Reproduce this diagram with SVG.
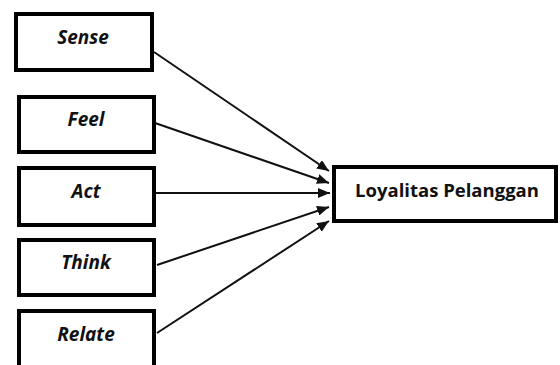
<svg xmlns="http://www.w3.org/2000/svg" width="560" height="365" viewBox="0 0 560 365">
<style>
.box{fill:#fff;stroke:#000;stroke-width:4}
.lbl{font-family:"Open Sans","Liberation Sans",sans-serif;font-weight:bold;font-style:italic;font-size:19px;fill:#111;text-anchor:middle}
.tgt{font-family:"Open Sans","Liberation Sans",sans-serif;font-weight:bold;font-size:18.5px;fill:#111;text-anchor:middle}
.con line{stroke:#111;stroke-width:2;marker-end:url(#ah)}
</style>
<defs>
<marker id="ah" viewBox="0 0 10 10" refX="10" refY="5" markerWidth="12" markerHeight="10" markerUnits="userSpaceOnUse" orient="auto" preserveAspectRatio="none">
<path d="M0,0 L10,5 L0,10 z" fill="#111"/>
</marker>
</defs>
<rect width="560" height="365" fill="#fff"/>
<g id="sense"><rect class="box" x="16" y="14" width="136" height="56"/><text class="lbl" x="83" y="44">Sense</text></g>
<g id="feel"><rect class="box" x="19" y="97" width="135" height="55"/><text class="lbl" x="86" y="126">Feel</text></g>
<g id="act"><rect class="box" x="19" y="168" width="135" height="57"/><text class="lbl" x="86" y="198">Act</text></g>
<g id="think"><rect class="box" x="19" y="240" width="135" height="55"/><text class="lbl" x="86" y="269">Think</text></g>
<g id="relate"><rect class="box" x="19" y="311" width="135" height="60"/><text class="lbl" x="86" y="341">Relate</text></g>
<g id="loyalitas"><rect class="box" x="334" y="167" width="222" height="54"/><text class="tgt" x="447" y="197">Loyalitas Pelanggan</text></g>
<g id="connectors" class="con">
<line x1="154" y1="52" x2="329" y2="171"/>
<line x1="155" y1="123" x2="329" y2="183"/>
<line x1="156" y1="193" x2="330" y2="193"/>
<line x1="157" y1="265" x2="329" y2="207"/>
<line x1="157" y1="333" x2="329" y2="221"/>
</g>
</svg>
